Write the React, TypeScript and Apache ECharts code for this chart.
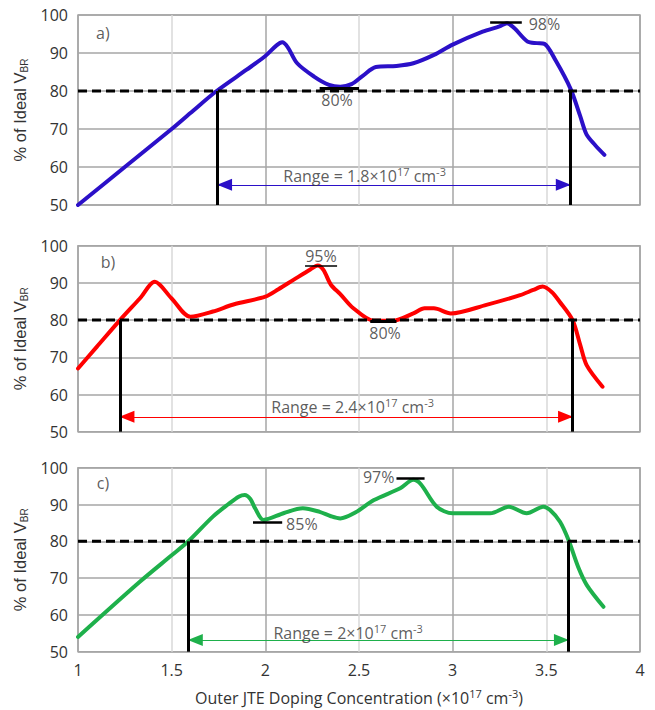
import React, { useEffect, useRef } from "react";
import * as echarts from "echarts";

// ---- axes ----
const xTicks = [1, 1.5, 2, 2.5, 3, 3.5, 4];
const yTicks = [50, 60, 70, 80, 90, 100];
const threshold = 80;

// ---- panel a (blue) ----
const xA = [1, 1.25, 1.5, 1.6, 1.74, 1.9, 2.0, 2.06, 2.09, 2.12, 2.17, 2.26, 2.34, 2.4, 2.46, 2.52, 2.59, 2.7, 2.79, 2.9, 3.0, 3.16, 3.25, 3.29, 3.33, 3.4, 3.45, 3.49, 3.55, 3.63, 3.68, 3.715, 3.76, 3.81];
const yA = [50, 60, 70, 74.2, 80, 85.6, 89.2, 92, 92.8, 91.5, 87.3, 83.8, 81.6, 81.1, 81.8, 84, 86.3, 86.6, 87.3, 89.5, 92.2, 95.6, 97, 97.8, 96.5, 93, 92.6, 92.4, 88, 80.5, 73.5, 68.5, 65.8, 63.2];

// ---- panel b (red) ----
const xB = [1, 1.1, 1.224, 1.33, 1.41, 1.5, 1.6, 1.72, 1.83, 2.0, 2.07, 2.15, 2.24, 2.28, 2.31, 2.35, 2.4, 2.47, 2.58, 2.68, 2.79, 2.85, 2.9, 2.99, 3.18, 3.36, 3.43, 3.48, 3.53, 3.57, 3.64, 3.68, 3.715, 3.8];
const yB = [67, 72.8, 80, 85.8, 90.3, 85.8, 80.9, 82.3, 84.2, 86.3, 88.3, 90.8, 93.6, 94.7, 93.5, 89.5, 87, 83.2, 79.8, 79.8, 81.8, 83.2, 83.2, 81.8, 84.1, 86.7, 88.1, 89, 87.5, 85, 80, 73.5, 67.9, 62.1];

// ---- panel c (green) ----
const xC = [1, 1.33, 1.5, 1.589, 1.72, 1.8, 1.86, 1.89, 1.92, 1.945, 1.99, 2.1, 2.2, 2.29, 2.35, 2.4, 2.48, 2.58, 2.72, 2.79, 2.83, 2.915, 3.0, 3.2, 3.3, 3.395, 3.484, 3.52, 3.573, 3.618, 3.67, 3.716, 3.805];
const yC = [54, 69, 76.2, 80, 86.7, 90, 92.2, 92.6, 91.5, 89, 85.8, 87.7, 89, 88, 86.8, 86.2, 87.8, 91.2, 94.4, 96.7, 95.5, 89.4, 87.6, 87.6, 89.4, 87.6, 89.4, 88.5, 85.3, 80.4, 73, 68.1, 62.2];

// ---- range limits (x where curve crosses 80%) and arrow heights ----
const rangeA = [1.745, 3.628];
const rangeB = [1.224, 3.64];
const rangeC = [1.589, 3.618];
const arrowY = [55.3, 54.0, 53.2];

// ---- short black marker ticks: [x0, x1, y, width] ----
const ticksA = [[3.2, 3.369, 98, 2.5], [2.29, 2.5, 80.8, 3]];
const ticksB = [[2.212, 2.383, 94.7, 1.5], [2.56, 2.7, 79.6, 3]];
const ticksC = [[1.934, 2.09, 85.2, 2.5], [2.7, 2.85, 97.1, 2.5]];

// ---- text annotations ----
const labelsA = [
  { text: "a)", x: 1.133, y: 95.3 },
  { text: "98%", x: 3.49, y: 97.6 },
  { text: "80%", x: 2.383, y: 77.6 },
  { text: "{t|Range = 1.8×10}{sup|17}{t| cm}{sup|-3}", x: 2.53, y: 57.6 },
];
const labelsB = [
  { text: "b)", x: 1.16, y: 95.7 },
  { text: "95%", x: 2.297, y: 97.2 },
  { text: "80%", x: 2.639, y: 76.5 },
  { text: "{t|Range = 2.4×10}{sup|17}{t| cm}{sup|-3}", x: 2.466, y: 56.6 },
];
const labelsC = [
  { text: "c)", x: 1.133, y: 95.8 },
  { text: "85%", x: 2.195, y: 84.6 },
  { text: "97%", x: 2.605, y: 97.6 },
  { text: "{t|Range = 2×10}{sup|17}{t| cm}{sup|-3}", x: 2.442, y: 55.0 },
];

const colors = ["#2B10C8", "#FF0000", "#1EB04B"];
const tops = [15, 245.7, 467.7];
const heights = [190, 186, 184];

const FONT = "'Open Sans', Lato, sans-serif";
const TXT = "#333333";
const FS = 16;

const zip = (xs: number[], ys: number[]) => xs.map((x, i) => [x, ys[i]]);

export default function App() {
  const ref = useRef<HTMLDivElement>(null);
  useEffect(() => {
    if (!ref.current) return;
    const chart = echarts.init(ref.current, undefined, { renderer: "svg" });

    const curves = [zip(xA, yA), zip(xB, yB), zip(xC, yC)];
    const ranges = [rangeA, rangeB, rangeC];
    const ticks = [ticksA, ticksB, ticksC];
    const labels = [labelsA, labelsB, labelsC];

    const richText = {
      t: { fontSize: FS, fontFamily: FONT, color: TXT, lineHeight: 20 },
      sup: { fontSize: 11, fontFamily: FONT, color: TXT, lineHeight: 20, verticalAlign: "top" },
    };

    const grids = [0, 1, 2].map((i) => ({
      left: 78,
      width: 562,
      top: tops[i],
      height: heights[i],
      show: true,
      borderColor: "#a6a6a6",
      borderWidth: 1.5,
    }));

    const xAxes = [0, 1, 2].map((i) => ({
      type: "value",
      gridIndex: i,
      min: xTicks[0],
      max: xTicks[xTicks.length - 1],
      interval: xTicks[1] - xTicks[0],
      axisLine: { show: false },
      axisTick: { show: false },
      axisLabel: {
        show: i === 2,
        fontSize: FS,
        color: TXT,
        fontFamily: FONT,
        margin: 10,
      },
      splitLine: {
        show: true,
        lineStyle: { color: ["#a6a6a6", "#d9d9d9"], width: 1.5 },
      },
      name: i === 2 ? "{t|Outer JTE Doping Concentration (×10}{sup|17}{t| cm}{sup|-3}{t|)}" : "",
      nameLocation: "middle",
      nameGap: 36,
      nameTextStyle: { rich: richText },
    }));

    const yAxes = [0, 1, 2].map((i) => ({
      type: "value",
      gridIndex: i,
      min: yTicks[0],
      max: yTicks[yTicks.length - 1],
      interval: yTicks[1] - yTicks[0],
      axisLine: { show: false },
      axisTick: { show: false },
      axisLabel: { fontSize: FS, color: TXT, fontFamily: FONT, margin: 10 },
      splitLine: { show: true, lineStyle: { color: "#a6a6a6", width: 1.5 } },
      name: "{a|% of Ideal V}{s|BR}",
      nameLocation: "middle",
      nameRotate: 90,
      nameGap: 47,
      nameTextStyle: {
        rich: {
          a: { fontSize: 16.5, fontFamily: "'Liberation Sans', Arial, sans-serif", color: TXT, lineHeight: 20 },
          s: { fontSize: 10, fontFamily: "'Liberation Sans', Arial, sans-serif", color: TXT, lineHeight: 20, verticalAlign: "bottom" },
        },
      },
    }));

    const series: any[] = [];
    [0, 1, 2].forEach((i) => {
      const r = ranges[i];
      series.push({
        type: "line",
        xAxisIndex: i,
        yAxisIndex: i,
        data: curves[i],
        smooth: 0.3,
        showSymbol: false,
        lineStyle: { color: colors[i], width: 4, cap: "round", join: "round" },
        itemStyle: { color: colors[i] },
        z: 2,
        markLine: {
          silent: true,
          symbol: ["triangle", "triangle"],
          symbolSize: [12, 15],
          symbolOffset: [[0, 7], [0, 7]],
          label: { show: false },
          lineStyle: { color: colors[i], width: 1, type: "solid" },
          data: [[{ coord: [r[0], arrowY[i]] }, { coord: [r[1], arrowY[i]] }]],
        },
      });
      series.push({
        type: "line",
        xAxisIndex: i,
        yAxisIndex: i,
        data: [
          [xTicks[0], threshold],
          [xTicks[xTicks.length - 1], threshold],
        ],
        showSymbol: false,
        lineStyle: { color: "#000", width: 3, type: [9, 5] },
        z: 3,
        markLine: {
          silent: true,
          symbol: "none",
          label: { show: false },
          lineStyle: { color: "#000", width: 3, type: "solid" },
          data: [
            [{ coord: [r[0], threshold] }, { coord: [r[0], yTicks[0]] }],
            [{ coord: [r[1], threshold] }, { coord: [r[1], yTicks[0]] }],
            ...ticks[i].map((t) => [
              { coord: [t[0], t[2]], lineStyle: { color: "#000", width: t[3], type: "solid" } },
              { coord: [t[1], t[2]] },
            ]),
          ],
        },
      });
      series.push({
        type: "scatter",
        xAxisIndex: i,
        yAxisIndex: i,
        silent: true,
        symbolSize: 1,
        itemStyle: { color: "rgba(0,0,0,0)" },
        z: 5,
        data: labels[i].map((l) => ({ value: [l.x, l.y], label: { formatter: l.text } })),
        label: {
          show: true,
          position: "inside",
          fontSize: FS,
          fontFamily: FONT,
          color: TXT,
          rich: richText,
        },
      });
    });

    chart.setOption({
      animation: false,
      backgroundColor: "#fff",
      grid: grids,
      xAxis: xAxes,
      yAxis: yAxes,
      series,
    });
    return () => chart.dispose();
  }, []);
  return (
    <div
      ref={ref}
      style={{ position: "fixed", left: 0, top: 0, width: 655, height: 710, background: "#fff" }}
    />
  );
}
